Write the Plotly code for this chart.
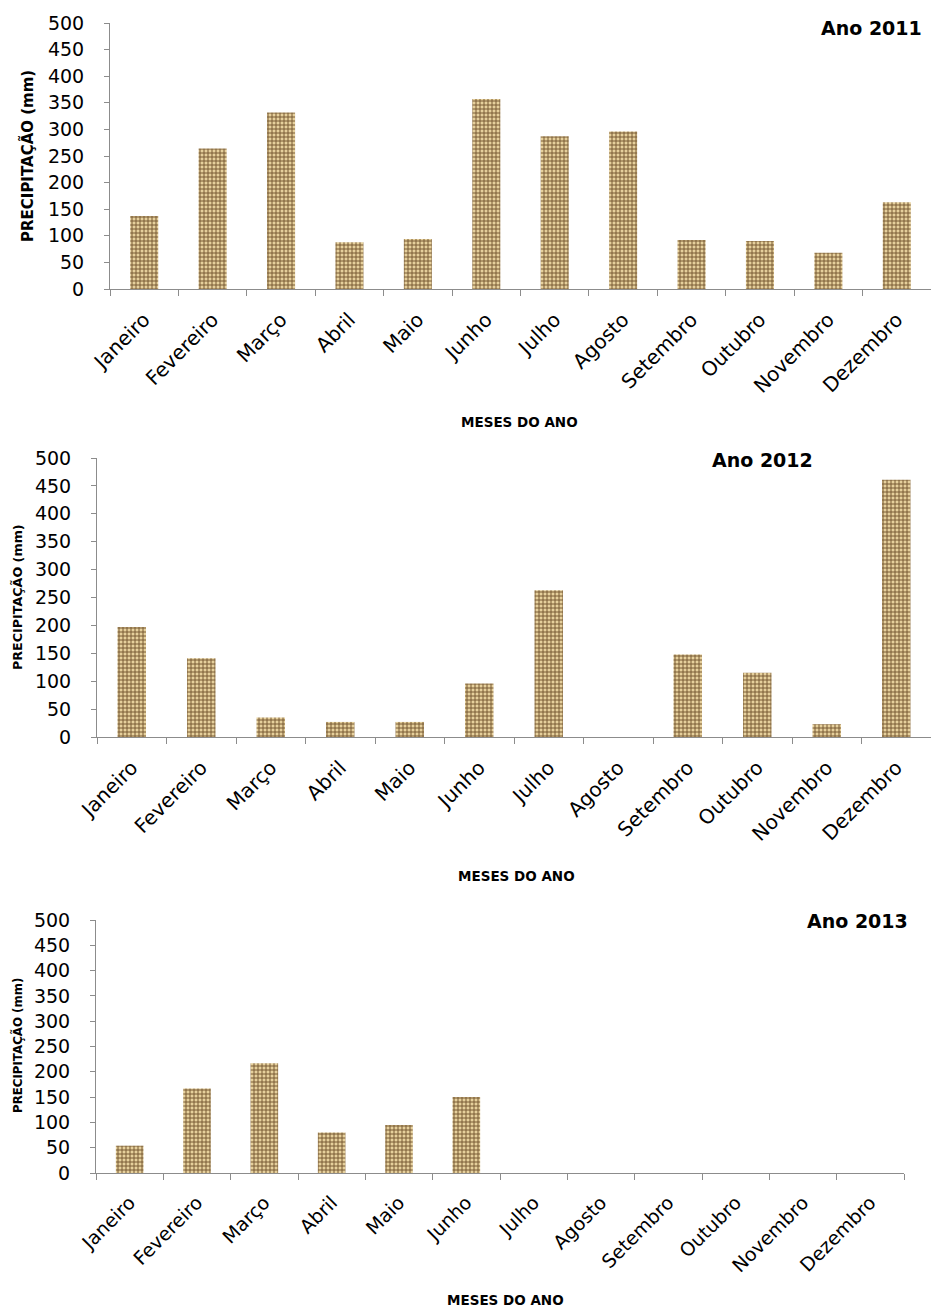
import plotly.graph_objects as go

# Monthly rainfall (mm)
meses = ["Janeiro", "Fevereiro", "Março", "Abril", "Maio", "Junho",
         "Julho", "Agosto", "Setembro", "Outubro", "Novembro", "Dezembro"]
chuva_2011 = [137, 264, 332, 88, 94, 357, 287, 296, 92, 90, 68, 163]
chuva_2012 = [197, 141, 35, 27, 27, 96, 263, 0, 148, 115, 23, 461]
chuva_2013 = [54, 167, 217, 80, 95, 150, None, None, None, None, None, None]
anos = ["Ano 2011", "Ano 2012", "Ano 2013"]
ticks_y = [0, 50, 100, 150, 200, 250, 300, 350, 400, 450, 500]

W, H = 931, 1308
FONT = "DejaVu Sans"
AXIS_GRAY = "#8c8c8c"

def px_x(v):
    return v / W

def px_y(v):
    return 1 - v / H

# panel geometry in pixels: (left, right, top, bottom, x label size)
panels = [
    (110, 931, 23, 289, 20),
    (97, 931, 458, 737, 20),
    (96, 904, 920, 1173, 19),
]
series = [chuva_2011, chuva_2012, chuva_2013]

fig = go.Figure()

for i, (vals, (l, r, t, b, fs)) in enumerate(zip(series, panels)):
    n = "" if i == 0 else str(i + 1)
    fig.add_trace(go.Bar(
        x=meses, y=vals, width=0.41,
        xaxis="x" + n, yaxis="y" + n,
        marker=dict(
            color="#d4b87c",
            line=dict(width=0),
            pattern=dict(shape="+", fgcolor="#735630", bgcolor="#e6d09c",
                         size=4, solidity=0.42, fillmode="replace"),
        ),
        showlegend=False,
    ))
    fig.layout["xaxis" + n] = dict(
        domain=[px_x(l), px_x(r)], anchor="y" + n, automargin=False,
        categoryorder="array", categoryarray=meses,
        showline=True, linecolor=AXIS_GRAY, linewidth=1,
        ticks="outside", tickson="boundaries", ticklen=6, tickcolor=AXIS_GRAY,
        ticklabelstandoff=10,
        tickangle=-45, showgrid=False, zeroline=False,
        tickfont=dict(family=FONT, size=fs, color="#000"),
        fixedrange=True,
    )
    fig.layout["yaxis" + n] = dict(
        domain=[px_y(b), px_y(t)], anchor="x" + n, automargin=False,
        range=[0, 500], tickvals=ticks_y,
        showline=True, linecolor=AXIS_GRAY, linewidth=1,
        ticks="outside", ticklen=5, tickcolor=AXIS_GRAY,
        showgrid=False, zeroline=False,
        ticklabelstandoff=16,
        tickfont=dict(family=FONT, size=19, color="#000"),
        fixedrange=True,
    )

# year titles
title_pos = [(924, 28), (815, 460), (910, 921)]
for (x, y), txt in zip(title_pos, anos):
    fig.add_annotation(x=px_x(x), y=px_y(y), xref="paper", yref="paper",
                       text="<b>" + txt + "</b>", showarrow=False,
                       xanchor="right", yanchor="middle",
                       font=dict(family=FONT, size=19, color="#000"))

# y-axis titles
ytitle_pos = [(28, 156, 15), (17, 597, 12.7), (17, 1046, 11.8)]
for x, y, s in ytitle_pos:
    fig.add_annotation(x=px_x(x), y=px_y(y), xref="paper", yref="paper",
                       text="<b>PRECIPITAÇÃO (mm)</b>", showarrow=False,
                       textangle=-90, xanchor="center", yanchor="middle",
                       font=dict(family=FONT, size=s, color="#000"))

# x-axis titles
xtitle_pos = [(519, 422), (516, 876), (505, 1300)]
for x, y in xtitle_pos:
    fig.add_annotation(x=px_x(x), y=px_y(y), xref="paper", yref="paper",
                       text="<b>MESES DO ANO</b>", showarrow=False,
                       xanchor="center", yanchor="middle",
                       font=dict(family=FONT, size=13.5, color="#000"))

fig.update_layout(
    width=W, height=H,
    margin=dict(l=0, r=0, t=0, b=0),
    paper_bgcolor="white", plot_bgcolor="white",
    bargap=0.59,
)

fig.write_html("out.html")
